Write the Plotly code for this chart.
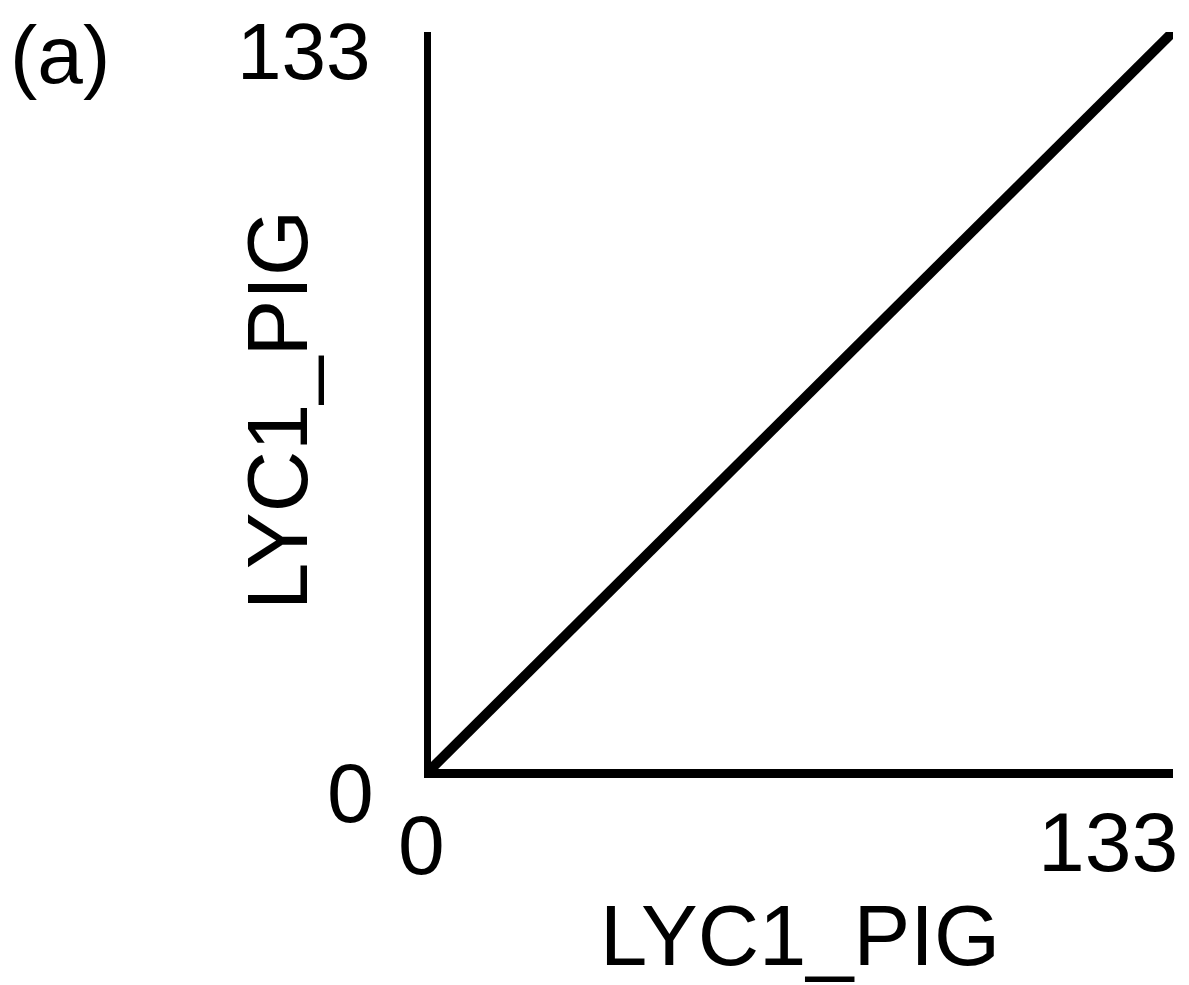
import plotly.graph_objects as go

# Data: self-comparison dot plot of LYC1_PIG (length 133) -> main diagonal
seq_name = "LYC1_PIG"
seq_len = 133
diag_x = [0, 133]
diag_y = [0, 133]
tick_vals = [0, 133]
tick_text = ["0", "133"]
panel_label = "(a)"

FONT = "Liberation Sans, Arial, Helvetica, sans-serif"
tsize = 84
title_size = 85

fig = go.Figure()
fig.add_trace(go.Scatter(
    x=diag_x, y=diag_y, mode="lines",
    line=dict(color="black", width=10),
    cliponaxis=False, showlegend=False, hoverinfo="skip",
))

fig.update_xaxes(range=[0, seq_len], showgrid=False, zeroline=False,
                 showline=True, linecolor="black", linewidth=9,
                 showticklabels=False, ticks="")
fig.update_yaxes(range=[0, seq_len], showgrid=False, zeroline=False,
                 showline=True, linecolor="black", linewidth=7,
                 showticklabels=False, ticks="")


def lab(x, y, text, xanchor, xshift, yshift, size, angle=0):
    return dict(x=x, y=y, xref="x", yref="y", text=text,
                xanchor=xanchor, yanchor="middle", xshift=xshift, yshift=yshift,
                textangle=angle, showarrow=False,
                font=dict(size=size, color="black", family=FONT))


ann = [
    # y tick labels
    lab(0, tick_vals[1], tick_text[1], "right", -59, -19, 80),
    lab(0, tick_vals[0], tick_text[0], "right", -55, -24, tsize),
    # x tick labels
    lab(tick_vals[0], 0, tick_text[0], "center", -10, -76, tsize),
    lab(tick_vals[1], 0, tick_text[1], "right", 7, -73, tsize),
    # axis titles
    lab(0, 0, seq_name, "center", 800 - 431, 773 - 939, title_size),
    lab(0, 0, seq_name, "center", 277 - 431, 773 - 414, title_size, -90),
    # panel label
    lab(0, seq_len, panel_label, "center", 60 - 431, -22, 82),
]

fig.update_layout(
    width=1181, height=977,
    margin=dict(l=423, r=16, t=24, b=216, pad=0),
    paper_bgcolor="white", plot_bgcolor="white",
    annotations=ann,
)

fig.write_html("out.html")
